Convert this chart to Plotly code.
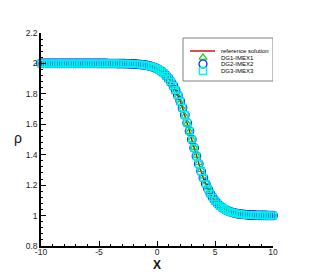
import plotly.graph_objects as go

# ---- data ----
x = [-10.0, -9.8, -9.6, -9.4, -9.2, -9.0, -8.8, -8.6, -8.4, -8.2,
     -8.0, -7.8, -7.6, -7.4, -7.2, -7.0, -6.8, -6.6, -6.4, -6.2,
     -6.0, -5.8, -5.6, -5.4, -5.2, -5.0, -4.8, -4.6, -4.4, -4.2,
     -4.0, -3.8, -3.6, -3.4, -3.2, -3.0, -2.8, -2.6, -2.4, -2.2,
     -2.0, -1.8, -1.6, -1.4, -1.2, -1.0, -0.8, -0.6, -0.4, -0.2,
     0.0, 0.2, 0.4, 0.6, 0.8, 1.0, 1.2, 1.4, 1.6, 1.8,
     2.0, 2.2, 2.4, 2.6, 2.8, 3.0, 3.2, 3.4, 3.6, 3.8,
     4.0, 4.2, 4.4, 4.6, 4.8, 5.0, 5.2, 5.4, 5.6, 5.8,
     6.0, 6.2, 6.4, 6.6, 6.8, 7.0, 7.2, 7.4, 7.6, 7.8,
     8.0, 8.2, 8.4, 8.6, 8.8, 9.0, 9.2, 9.4, 9.6, 9.8, 10.0]

rho_ref = [2.0, 2.0, 2.0, 2.0, 2.0, 2.0, 2.0, 2.0, 2.0, 2.0,
           2.0, 2.0, 2.0, 2.0, 2.0, 2.0, 2.0, 2.0, 2.0, 2.0,
           2.0, 1.9999, 1.9999, 1.9999, 1.9998, 1.9998, 1.9998, 1.9997, 1.9997, 1.9996,
           1.9996, 1.9995, 1.9994, 1.9992, 1.9990, 1.9987, 1.9984, 1.9980, 1.9975, 1.9969,
           1.9962, 1.9952, 1.9940, 1.9925, 1.9907, 1.9884, 1.9855, 1.9820, 1.9776, 1.9722,
           1.9655, 1.9573, 1.9473, 1.9350, 1.9201, 1.9022, 1.8808, 1.8554, 1.8257, 1.7914,
           1.7523, 1.7087, 1.6608, 1.6093, 1.5553, 1.5000, 1.4447, 1.3907, 1.3392, 1.2913,
           1.2477, 1.2086, 1.1743, 1.1446, 1.1192, 1.0978, 1.0799, 1.0650, 1.0527, 1.0427,
           1.0345, 1.0278, 1.0224, 1.0180, 1.0145, 1.0116, 1.0093, 1.0075, 1.0060, 1.0048,
           1.0038, 1.0031, 1.0025, 1.0020, 1.0016, 1.0013, 1.0010, 1.0008, 1.0006, 1.0005, 1.0004]

rho_dg1 = [2.0, 2.0, 2.0, 2.0, 2.0, 2.0, 2.0, 2.0, 2.0, 2.0,
           2.0, 2.0, 2.0, 2.0, 2.0, 2.0, 2.0, 2.0, 2.0, 2.0,
           2.0, 1.9999, 1.9999, 1.9999, 1.9998, 1.9998, 1.9998, 1.9997, 1.9997, 1.9996,
           1.9994, 1.9992, 1.9990, 1.9988, 1.9985, 1.9982, 1.9978, 1.9972, 1.9966, 1.9958,
           1.9948, 1.9936, 1.9922, 1.9904, 1.9881, 1.9854, 1.9820, 1.9779, 1.9729, 1.9667,
           1.9592, 1.9501, 1.9391, 1.9259, 1.9102, 1.8914, 1.8693, 1.8435, 1.8136, 1.7795,
           1.7413, 1.6989, 1.6528, 1.6037, 1.5524, 1.5000, 1.4476, 1.3963, 1.3472, 1.3011,
           1.2587, 1.2205, 1.1864, 1.1565, 1.1307, 1.1086, 1.0898, 1.0741, 1.0609, 1.0499,
           1.0408, 1.0333, 1.0271, 1.0221, 1.0180, 1.0146, 1.0119, 1.0096, 1.0078, 1.0064,
           1.0052, 1.0042, 1.0034, 1.0028, 1.0022, 1.0018, 1.0015, 1.0012, 1.0010, 1.0008, 1.0006]

rho_dg2 = list(rho_ref)
rho_dg3 = list(rho_ref)

series_names = ["reference solution", "DG1-IMEX1", "DG2-IMEX2", "DG3-IMEX3"]
x_ticks = [-10, -5, 0, 5, 10]
y_ticks = [0.8, 1.0, 1.2, 1.4, 1.6, 1.8, 2.0, 2.2]
y_tick_text = ["0.8", "1", "1.2", "1.4", "1.6", "1.8", "2", "2.2"]

RED = "#d00000"
GREEN = "#00c800"
BLUE = "#1010ff"
CYAN = "#00f0f0"
FONT = "Liberation Sans, Arial, sans-serif"

fig = go.Figure()
fig.add_trace(go.Scatter(x=x, y=rho_ref, mode="lines", line=dict(color=RED, width=1.4),
                         name=series_names[0], cliponaxis=False))
fig.add_trace(go.Scatter(x=x, y=rho_dg1, mode="markers", name=series_names[1], cliponaxis=False,
                         marker=dict(symbol="triangle-up-open", size=7, color=GREEN, line=dict(width=1.2))))
fig.add_trace(go.Scatter(x=x, y=rho_dg2, mode="markers", name=series_names[2], cliponaxis=False,
                         marker=dict(symbol="circle-open", size=8.5, color=BLUE, line=dict(width=1.2))))
fig.add_trace(go.Scatter(x=x, y=rho_dg3, mode="markers", name=series_names[3], cliponaxis=False,
                         marker=dict(symbol="square-open", size=6.5, color=CYAN, line=dict(width=1.4))))

# ---- manual legend (pixel-space overlay axes) ----
leg_y = [51, 57.5, 64, 71]
fig.add_trace(go.Scatter(x=[190, 215], y=[leg_y[0], leg_y[0]], mode="lines", xaxis="x2", yaxis="y2",
                         line=dict(color=RED, width=1.4), cliponaxis=False, hoverinfo="skip"))
fig.add_trace(go.Scatter(x=[203], y=[leg_y[1]], mode="markers", xaxis="x2", yaxis="y2", cliponaxis=False,
                         marker=dict(symbol="triangle-up-open", size=7, color=GREEN, line=dict(width=1.2)), hoverinfo="skip"))
fig.add_trace(go.Scatter(x=[203], y=[leg_y[2]], mode="markers", xaxis="x2", yaxis="y2", cliponaxis=False,
                         marker=dict(symbol="circle-open", size=8, color=BLUE, line=dict(width=1.2)), hoverinfo="skip"))
fig.add_trace(go.Scatter(x=[203], y=[leg_y[3]], mode="markers", xaxis="x2", yaxis="y2", cliponaxis=False,
                         marker=dict(symbol="square-open", size=7, color=CYAN, line=dict(width=1.4)), hoverinfo="skip"))
fig.add_shape(type="rect", xref="x2", yref="y2", x0=183, x1=273, y0=38, y1=81,
              line=dict(color="#808080", width=1), fillcolor="rgba(0,0,0,0)")
for name, yy in zip(series_names, leg_y):
    fig.add_annotation(xref="x2", yref="y2", x=219, y=yy, text=name,
                       showarrow=False, xanchor="left", yanchor="middle",
                       font=dict(family=FONT, size=6, color="#000"))

# axis titles
fig.add_annotation(xref="paper", yref="paper", x=-0.099, y=0.507, text="ρ", showarrow=False,
                   font=dict(family=FONT, size=14, color="#111"), xanchor="center", yanchor="middle")
fig.add_annotation(xref="paper", yref="paper", x=0.5, y=-0.087, text="<b>X</b>", showarrow=False,
                   font=dict(family=FONT, size=12, color="#111"), xanchor="center", yanchor="middle")

axis_common = dict(showgrid=False, zeroline=False, showline=True, linecolor="black", linewidth=1.5,
                   ticks="inside", ticklen=5, tickwidth=1.2, tickcolor="black",
                   tickfont=dict(family=FONT, size=8.5, color="#222"), mirror=False)

fig.update_layout(
    width=311, height=277,
    margin=dict(l=41, r=38, t=33, b=31),
    paper_bgcolor="white", plot_bgcolor="white",
    showlegend=False,
    xaxis=dict(range=[-10, 10], tickvals=x_ticks, ticktext=[str(v) for v in x_ticks],
               ticklabelstandoff=-3,
               minor=dict(dtick=1, ticks="inside", ticklen=2.5, tickcolor="black", tickwidth=1),
               **axis_common),
    yaxis=dict(range=[0.8, 2.2], tickvals=y_ticks, ticktext=y_tick_text,
               minor=dict(dtick=0.04, ticks="inside", ticklen=2.5, tickcolor="black", tickwidth=1),
               **axis_common),
    xaxis2=dict(overlaying="x", range=[41, 273], visible=False, anchor="y2"),
    yaxis2=dict(overlaying="y", range=[246, 33], visible=False, anchor="x2"),
)

fig.write_html("out.html", config={"displayModeBar": False},
               post_script="document.body.style.margin='0';document.body.style.padding='0';")
